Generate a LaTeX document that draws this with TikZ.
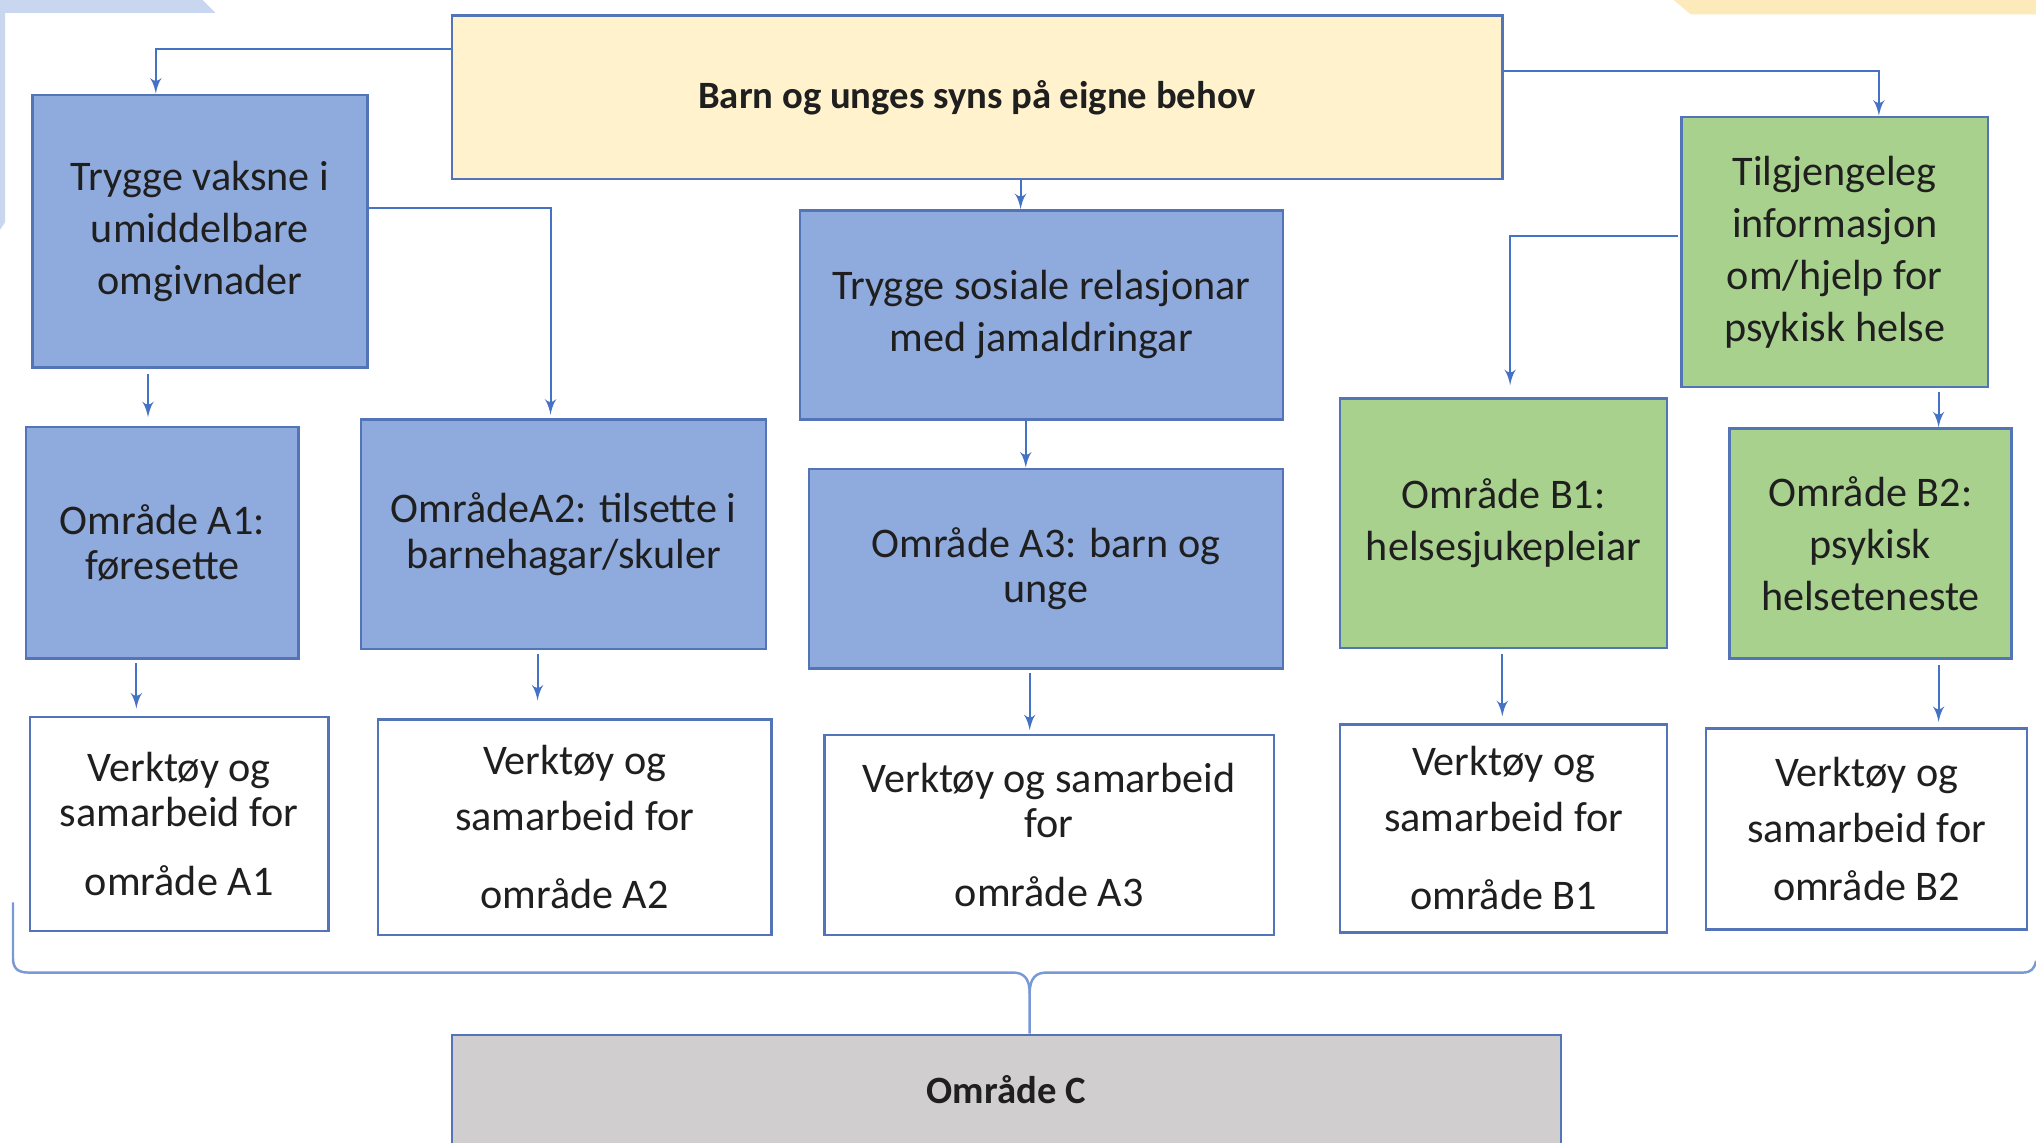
\documentclass[tikz,border=0pt]{standalone}
\usepackage{fontspec}
\setmainfont{Carlito}
\usepackage{tikz}
\usetikzlibrary{arrows,shapes}
\definecolor{linecol}{RGB}{68,114,196}
\definecolor{edgecol}{RGB}{84,116,184}
\definecolor{bracecol}{RGB}{120,152,214}
\definecolor{bluefill}{RGB}{143,170,220}
\definecolor{greenfill}{RGB}{169,209,142}
\definecolor{yellowfill}{RGB}{255,242,204}
\definecolor{greyfill}{RGB}{208,206,206}
\definecolor{bandblue}{RGB}{200,214,240}
\definecolor{bandgold}{RGB}{252,234,186}

\begin{document}
\begin{tikzpicture}[x=0.3694pt,y=-0.3694pt,->,>=latex',line width=0.55pt,draw=linecol,
  sz/.style 2 args={minimum width=#1*0.3694pt,minimum height=#2*0.3694pt}]
 \tikzstyle{every node}=[inner sep=0pt,align=center,text=black!88]
 \tikzstyle{box}=[rectangle,draw=edgecol,line width=0.7pt,font=\fontsize{12}{14.8}\selectfont]
 \tikzstyle{bluebox}=[box,fill=bluefill]
 \tikzstyle{omrbox}=[box,fill=bluefill,font=\fontsize{12}{13}\selectfont]
 \tikzstyle{greenbox}=[box,fill=greenfill]
 \tikzstyle{toolbox}=[box,fill=white,font=\fontsize{12}{13}\selectfont]
 \tikzstyle{headbox}=[box,font=\fontsize{11}{13}\selectfont\bfseries]
 \tikzstyle{brace}=[-,draw=bracecol,line width=0.7pt]

 \clip (0,0) rectangle (1568,880);
 \fill[white] (0,0) rectangle (1568,880);
 % background bands
 \fill[bandblue] (0,0) -- (156,0) -- (166,10) -- (4,10) -- (4,171) -- (0,177) -- cycle;
 \fill[bandgold] (1289,0) -- (1568,0) -- (1568,11) -- (1302,11) -- cycle;

 \node[headbox,fill=yellowfill,sz={809}{126}] (top) at (752.5,75) {Barn og unges syns på eigne behov};
 \node[bluebox,sz={258}{210}] (vaksne) at (154,178) {Trygge vaksne i\\umiddelbare\\omgivnader};
 \node[bluebox,sz={372}{161}] (sosiale) at (802,242.5) {Trygge sosiale relasjonar\\med jamaldringar};
 \node[greenbox,sz={236}{208}] (info) at (1413,194) {Tilgjengeleg\\informasjon\\om/hjelp for\\psykisk helse};

 \node[omrbox,sz={210}{178}] (A1) at (125,418) {Område A1:\\føresette};
 \node[omrbox,sz={312}{177}] (A2) at (434,411.5) {OmrådeA2: tilsette i\\barnehagar/skuler};
 \node[omrbox,sz={365}{154}] (A3) at (805.5,438) {Område A3: barn og\\unge};
 \node[greenbox,sz={252}{192}] (B1) at (1158,403) {Område B1:\\helsesjukepleiar};
 \node[greenbox,sz={217}{177}] (B2) at (1440.5,418.5) {Område B2:\\psykisk\\helseteneste};

 \node[toolbox,sz={230}{165}] (vA1) at (138,634.5) {Verktøy og\\samarbeid for\\[6.6pt]område A1};
 \node[toolbox,sz={303}{166}] (vA2) at (442.5,637) {Verktøy og\\[2.9pt]samarbeid for\\[9.2pt]område A2};
 \node[toolbox,sz={346}{154}] (vA3) at (808,643) {Verktøy og samarbeid\\for\\[6.6pt]område A3};
 \node[toolbox,sz={252}{160}] (vB1) at (1158,638) {Verktøy og\\[2.9pt]samarbeid for\\[9.2pt]område B1};
 \node[toolbox,sz={247}{155}] (vB2) at (1437.5,638.5) {Verktøy og\\[2.9pt]samarbeid for\\[3.6pt]område B2};

 \node[headbox,fill=greyfill,sz={854}{85}] (C) at (775,839.5) {Område C};

 % connectors
 \draw (top.west |- 0,38) -| (vaksne.north -| 120,0);
 \draw (top.east |- 0,55) -| (info.north -| 1447,0);
 \draw (top.south -| 786,0) -- (sosiale.north -| 786,0);
 \draw (vaksne.east |- 0,160) -| ([yshift=1pt]A2.north -| 424,0);
 \draw (info.west |- 0,182) ++(-2,0) -| ([yshift=3.5pt]B1.north -| 1163,0);
 \draw[shorten <=1.5pt,shorten >=2.5pt] (vaksne.south -| 114,0) -- (A1.north -| 114,0);
 \draw (sosiale.south -| 790,0) -- (A3.north -| 790,0);
 \draw[shorten <=1pt] (info.south -| 1493,0) -- (B2.north -| 1493,0);

 \draw[shorten <=1pt,shorten >=2pt] (A1.south -| 105,0) -- (vA1.north -| 105,0);
 \draw[shorten <=1pt,shorten >=5pt] (A2.south -| 414,0) -- (vA2.north -| 414,0);
 \draw[shorten <=1pt,shorten >=1pt] (A3.south -| 793,0) -- (vA3.north -| 793,0);
 \draw[shorten <=1.5pt,shorten >=2pt] (B1.south -| 1157,0) -- (vB1.north -| 1157,0);
 \draw[shorten <=1.5pt,shorten >=1.5pt] (B2.south -| 1493,0) -- (vB2.north -| 1493,0);

 % brace down to omrade C
 \coordinate (tip) at (793,765);
 \draw[brace] (10,695) -- (10,738) .. controls (10,746) and (14,749) .. (22,749) -- (780,749)
   .. controls (788,749) and (793,753) .. (tip) -- (C.north -| tip);
 \draw[brace] (tip) .. controls (793,753) and (798,749) .. (806,749) -- (1558,749)
   .. controls (1564,749) and (1567,746) .. (1568,740);
\end{tikzpicture}
\end{document}
